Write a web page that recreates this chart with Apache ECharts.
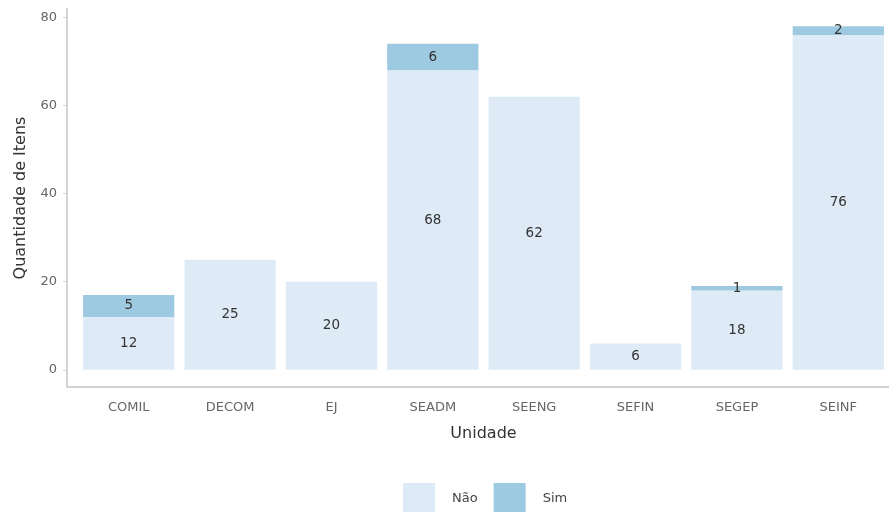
<!DOCTYPE html>
<html>
<head>
<meta charset="utf-8">
<script src="https://cdn.jsdelivr.net/npm/echarts@6/dist/echarts.min.js"></script>
<style>html,body{margin:0;padding:0;background:#fff;}#c{width:889px;height:512px;}</style>
</head>
<body>
<div id="c"></div>
<script>
const categories = ['COMIL','DECOM','EJ','SEADM','SEENG','SEFIN','SEGEP','SEINF'];
const naoValues = [12, 25, 20, 68, 62, 6, 18, 76];
const simValues = [5, null, null, 6, null, null, 1, 2];
const yTicks = [0, 20, 40, 60, 80];

const font = 'DejaVu Sans';
const chart = echarts.init(document.getElementById('c'), null, {renderer: 'canvas'});
const labelStyle = {show: true, position: 'inside', color: '#333333', fontSize: 13.5, fontFamily: font,
  formatter: p => (p.value == null ? '' : p.value)};
chart.setOption({
  animation: false,
  backgroundColor: '#ffffff',
  grid: {left: 78, right: -1, top: 9, bottom: 125, containLabel: false},
  xAxis: {
    type: 'category', data: categories,
    axisLine: {show: true, onZero: false, lineStyle: {color: '#d3d3d3', width: 2}},
    axisTick: {show: false},
    axisLabel: {color: '#666666', fontSize: 13, fontFamily: font, margin: 14},
    name: 'Unidade', nameLocation: 'middle', nameGap: 39,
    nameTextStyle: {color: '#333333', fontSize: 16, fontFamily: font},
    splitLine: {show: false}
  },
  yAxis: {
    type: 'value', min: -3.9, max: 81.9,
    offset: 11,
    axisLine: {show: true, lineStyle: {color: '#d3d3d3', width: 2}},
    axisTick: {show: true, length: 4, lineStyle: {color: '#d3d3d3'}, customValues: yTicks},
    axisLabel: {color: '#666666', fontSize: 13, fontFamily: font, margin: 10, customValues: yTicks},
    splitLine: {show: false},
    name: 'Quantidade de Itens', nameLocation: 'middle', nameGap: 38,
    nameTextStyle: {color: '#333333', fontSize: 16, fontFamily: font}
  },
  legend: {
    top: 478, left: 398,
    itemWidth: 32, itemHeight: 32, itemGap: 16,
    textStyle: {color: '#444444', fontSize: 13, fontFamily: font, padding: [0, 0, 0, 12]},
    data: [{name: 'Não', icon: 'rect'}, {name: 'Sim', icon: 'rect'}]
  },
  series: [
    {name: 'Não', type: 'bar', stack: 'a', data: naoValues, barCategoryGap: '10%',
      itemStyle: {color: '#deebf7'}, label: labelStyle},
    {name: 'Sim', type: 'bar', stack: 'a', data: simValues, barCategoryGap: '10%',
      itemStyle: {color: '#9ecae1'}, label: labelStyle}
  ],
  graphic: [{type: 'line', shape: {x1: 66, y1: 387, x2: 79, y2: 387}, style: {stroke: '#d3d3d3', lineWidth: 2}, z: 10}]
});
</script>
</body>
</html>
